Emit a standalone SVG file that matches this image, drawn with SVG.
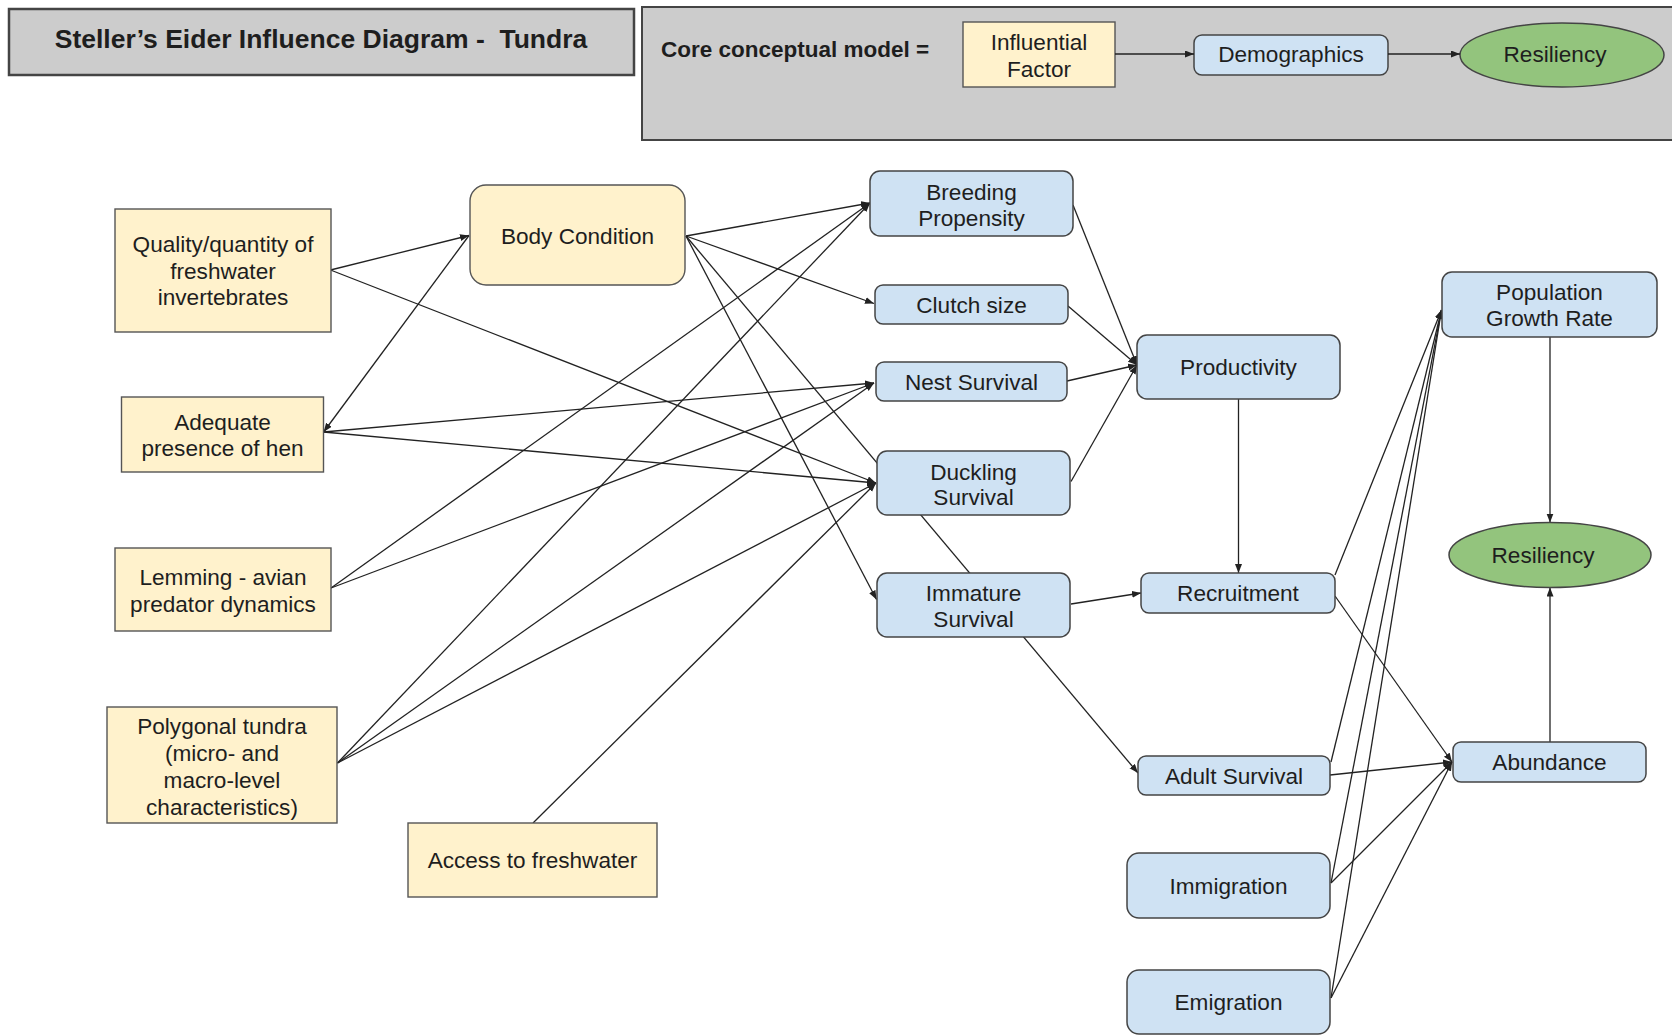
<svg xmlns="http://www.w3.org/2000/svg" width="1672" height="1035" viewBox="0 0 1672 1035">
<defs>
<marker id="arr" markerUnits="userSpaceOnUse" markerWidth="10" markerHeight="8" refX="9" refY="3.5" orient="auto">
<path d="M0,0 L9,3.5 L0,7 z" fill="#222"/>
</marker>
<style>
text{font-family:"Liberation Sans",Arial,sans-serif;fill:#1e1e1e;text-anchor:middle;font-size:22.6px}
.b{font-weight:bold}
.t{font-size:26.5px;white-space:pre}
.m{font-size:22.5px;text-anchor:start}
.y{fill:#fff2cc;stroke:#555;stroke-width:1.4}
.u{fill:#cfe2f3;stroke:#444;stroke-width:1.5}
.g{fill:#93c47d;stroke:#444;stroke-width:1.5}
.gray{fill:#cccccc;stroke:#444;stroke-width:2.5}
.c line{stroke:#222;stroke-width:1.3;marker-end:url(#arr)}
</style>
</defs>
<rect width="1672" height="1035" fill="#fff"/>

<g id="title">
<rect class="gray" x="9" y="9" width="625" height="66"/>
<text class="b t" x="321" y="48">Steller’s Eider Influence Diagram -  Tundra</text>
</g>

<g id="core-model">
<rect class="gray" x="642" y="7" width="1040" height="133" style="stroke-width:2"/>
<text class="b m" x="661" y="57">Core conceptual model =</text>
<rect class="y" x="963" y="22" width="152" height="65"/>
<text x="1039" y="50">Influential</text>
<text x="1039" y="77">Factor</text>
<rect class="u" x="1194" y="35" width="194" height="40" rx="8"/>
<text x="1291" y="62">Demographics</text>
<ellipse class="g" cx="1562" cy="55" rx="102" ry="32"/>
<text x="1555" y="62">Resiliency</text>
<g class="c">
<line x1="1115" y1="54" x2="1194" y2="54"/>
<line x1="1388" y1="54" x2="1460" y2="54"/>
</g>
</g>

<g id="connectors" class="c">
<line x1="330.5" y1="270" x2="469" y2="235.5"/>
<line x1="330.5" y1="270" x2="876" y2="483"/>
<line x1="469" y1="235.5" x2="323.6" y2="432"/>
<line x1="686" y1="236" x2="870" y2="203"/>
<line x1="686" y1="236" x2="874" y2="303.5"/>
<line x1="686" y1="236" x2="876.5" y2="599.5"/>
<line x1="686" y1="236" x2="1138" y2="773"/>
<line x1="323.6" y1="432" x2="874" y2="383"/>
<line x1="323.6" y1="432" x2="876" y2="483"/>
<line x1="331" y1="588" x2="870" y2="203"/>
<line x1="331" y1="588" x2="874" y2="383"/>
<line x1="337.5" y1="763" x2="870" y2="203"/>
<line x1="337.5" y1="763" x2="874" y2="383"/>
<line x1="337.5" y1="763" x2="876" y2="483"/>
<line x1="533" y1="823" x2="876" y2="483"/>
<line x1="1073" y1="205" x2="1137" y2="365"/>
<line x1="1068" y1="306" x2="1137" y2="365"/>
<line x1="1067" y1="381" x2="1137" y2="365"/>
<line x1="1071" y1="481.5" x2="1137" y2="365"/>
<line x1="1238.5" y1="399" x2="1238.5" y2="573"/>
<line x1="1071" y1="604" x2="1141" y2="593"/>
<line x1="1335" y1="575" x2="1441.5" y2="310"/>
<line x1="1335" y1="596" x2="1452" y2="762"/>
<line x1="1331" y1="762" x2="1441.5" y2="310"/>
<line x1="1330" y1="775" x2="1452" y2="762"/>
<line x1="1331" y1="883" x2="1441.5" y2="310"/>
<line x1="1331" y1="883" x2="1452" y2="762"/>
<line x1="1331" y1="998" x2="1441.5" y2="310"/>
<line x1="1331" y1="998" x2="1452" y2="762"/>
<line x1="1550" y1="337" x2="1550" y2="522.5"/>
<line x1="1550" y1="742" x2="1550" y2="587.5"/>
</g>

<g id="quality">
<rect class="y" x="115" y="209" width="216" height="123"/>
<text x="223" y="252">Quality/quantity of</text>
<text x="223" y="278.5">freshwater</text>
<text x="223" y="305">invertebrates</text>
</g>
<g id="body-condition">
<rect class="y" x="470" y="185" width="215" height="100" rx="16"/>
<text x="577.5" y="244">Body Condition</text>
</g>
<g id="adequate-hen">
<rect class="y" x="121.5" y="397" width="202" height="75"/>
<text x="222.5" y="429.5">Adequate</text>
<text x="222.5" y="456">presence of hen</text>
</g>
<g id="lemming">
<rect class="y" x="115" y="548" width="216" height="83"/>
<text x="223" y="585">Lemming - avian</text>
<text x="223" y="612">predator dynamics</text>
</g>
<g id="polygonal">
<rect class="y" x="107" y="707" width="230" height="116"/>
<text x="222" y="734">Polygonal tundra</text>
<text x="222" y="761">(micro- and</text>
<text x="222" y="788">macro-level</text>
<text x="222" y="814.5">characteristics)</text>
</g>
<g id="access">
<rect class="y" x="408" y="823" width="249" height="74"/>
<text x="532.5" y="868">Access to freshwater</text>
</g>

<g id="breeding">
<rect class="u" x="870" y="171" width="203" height="65" rx="10"/>
<text x="971.5" y="199.5">Breeding</text>
<text x="971.5" y="226">Propensity</text>
</g>
<g id="clutch">
<rect class="u" x="875" y="285" width="193" height="39" rx="8"/>
<text x="971.5" y="312.5">Clutch size</text>
</g>
<g id="nest">
<rect class="u" x="876" y="362" width="191" height="39" rx="8"/>
<text x="971.5" y="389.5">Nest Survival</text>
</g>
<g id="duckling">
<rect class="u" x="877" y="451" width="193" height="64" rx="10"/>
<text x="973.5" y="479.5">Duckling</text>
<text x="973.5" y="504.5">Survival</text>
</g>
<g id="immature">
<rect class="u" x="877" y="573" width="193" height="64" rx="10"/>
<text x="973.5" y="601">Immature</text>
<text x="973.5" y="627">Survival</text>
</g>
<g id="productivity">
<rect class="u" x="1137" y="335" width="203" height="64" rx="10"/>
<text x="1238.5" y="375">Productivity</text>
</g>
<g id="recruitment">
<rect class="u" x="1141" y="573" width="194" height="40" rx="8"/>
<text x="1238" y="601">Recruitment</text>
</g>
<g id="adult">
<rect class="u" x="1138" y="756" width="192" height="39" rx="8"/>
<text x="1234" y="783.5">Adult Survival</text>
</g>
<g id="immigration">
<rect class="u" x="1127" y="853" width="203" height="65" rx="12"/>
<text x="1228.5" y="893.5">Immigration</text>
</g>
<g id="emigration">
<rect class="u" x="1127" y="970" width="203" height="64" rx="12"/>
<text x="1228.5" y="1010">Emigration</text>
</g>
<g id="pgr">
<rect class="u" x="1442" y="272" width="215" height="65" rx="10"/>
<text x="1549.5" y="300">Population</text>
<text x="1549.5" y="326">Growth Rate</text>
</g>
<g id="resiliency">
<ellipse class="g" cx="1550" cy="555" rx="101" ry="32.5"/>
<text x="1543" y="563">Resiliency</text>
</g>
<g id="abundance">
<rect class="u" x="1453" y="742" width="193" height="40" rx="8"/>
<text x="1549.5" y="770">Abundance</text>
</g>
</svg>
